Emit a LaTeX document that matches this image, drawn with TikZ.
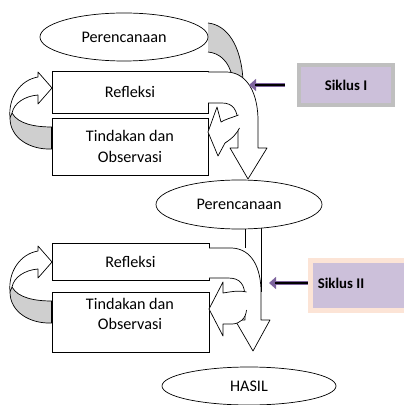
\documentclass[tikz,border=0pt]{standalone}
\usepackage{fontspec}
\setmainfont{Carlito}
\usetikzlibrary{shapes.geometric,arrows.meta}

\definecolor{lavender}{HTML}{CCC0DA}
\definecolor{boxgrey}{HTML}{BFBFBF}
\definecolor{peach}{HTML}{FCE4D6}
\definecolor{arrowpurple}{HTML}{7E649E}

\newcommand{\px}{0.025cm}

\begin{document}
\begin{tikzpicture}[x=0.025cm,y=-0.025cm,line width=0.5pt,
        font=\fontsize{11.5}{14.5}\selectfont,
        phase/.style={ellipse,draw,fill=white,inner sep=0pt},
        stage/.style={rectangle,draw,fill=white,inner sep=0pt,align=center},
        hollow/.style={draw,fill=white,line join=round},
        shade/.style={fill=gray!38},
        siklus/.style={rectangle,fill=lavender,line width=2.8pt,inner sep=0pt,
          font=\fontsize{10.5}{12}\selectfont\bfseries},
        pointer/.style={arrowpurple,line width=3.4pt,-{Triangle[length=5pt,width=8.5pt]}},
        pointcore/.style={black,line width=1.6pt,shorten >=4pt}]

  \useasboundingbox (0,0) rectangle (403,405);

  % grey band from the first plan
  \fill[shade] (208,23) .. controls (227,25) and (241,45) .. (243,80)
    -- (232,76) .. controls (229,62) and (220,53) .. (208,52) -- cycle;
  \draw (208,23) .. controls (227,25) and (241,45) .. (243,80);
  \draw (232,76) .. controls (229,62) and (220,53) .. (208,52);

  % shaft under the second plan
  \draw (245,215) -- (245,248) (261,215) -- (261,292);

  \node[phase,minimum width=168*\px,minimum height=48*\px] (plan1) at (124,37) {Perencanaan};
  \node[stage,minimum width=156*\px,minimum height=42*\px] (refl1) at (130,92) {Refleksi};
  \node[stage,minimum width=156*\px,minimum height=57*\px] (act1) at (130,146.5) {Tindakan dan\\Observasi};

  \node[phase,minimum width=166*\px,minimum height=49*\px] (plan2) at (239,204.5) {Perencanaan};
  \node[stage,minimum width=157*\px,minimum height=37*\px] (refl2) at (130.5,261.5) {Refleksi};
  \node[stage,minimum width=157*\px,minimum height=60*\px] (act2) at (130.5,322) {};
  \node[align=center] (act2txt) at (130,314) {Tindakan dan\\Observasi};
  \node[phase,minimum width=174*\px,minimum height=38*\px] (hasil) at (249,386) {HASIL};

  % big arrows on the right
  \filldraw[hollow] (208,72) -- (226,72) .. controls (244,72) and (257,88) .. (258,118)
    -- (258,148) -- (267,148) -- (248,179) -- (230,148) -- (238,148) -- (238,125)
    .. controls (238,110) and (233,103) .. (222,103) -- (208,103);
  \filldraw[hollow] (238.5,115) .. controls (231,118) and (226,119) .. (221,122)
    -- (217,107) -- (208,132) -- (218,156) -- (225,143)
    .. controls (233,138) and (237,133) .. (239.5,128);

  \filldraw[hollow] (209,248) -- (232,248) .. controls (252,249) and (261,268) .. (261,292)
    -- (261,320) -- (270,320) -- (253,351) -- (235,320) -- (245,320) -- (245,298)
    .. controls (245,284) and (240,278) .. (228,278) -- (209,278);
  \filldraw[hollow] (246.5,292) .. controls (238,290) and (230,292) .. (223,293)
    -- (223,282) -- (209,309) -- (223,336) -- (223,324) -- (232,324)
    .. controls (240,324) and (246,318) .. (246.5,310);

  % loops on the left
  \begin{scope}
    \fill[shade] (12,113) .. controls (18,124) and (35,127) .. (52,127)
      -- (52,149) .. controls (30,150) and (10,138) .. (10,118) -- cycle;
    \draw (12,113) .. controls (18,124) and (35,127) .. (52,127);
    \draw (52,149) .. controls (30,150) and (10,138) .. (10,118);
    \draw[line width=1.4pt] (52,127) -- (52,149);
    \filldraw[hollow] (10,118) .. controls (8,98) and (20,80) .. (38,77) -- (38,72)
      -- (52,88) -- (38,104) -- (38,95) .. controls (25,96) and (14,103) .. (12,113) -- cycle;
  \end{scope}
  \begin{scope}[shift={(0,174)}]
    \fill[shade] (12,113) .. controls (18,124) and (35,127) .. (52,127)
      -- (52,149) .. controls (30,150) and (10,138) .. (10,118) -- cycle;
    \draw (12,113) .. controls (18,124) and (35,127) .. (52,127);
    \draw (52,149) .. controls (30,150) and (10,138) .. (10,118);
    \draw[line width=1.4pt] (52,127) -- (52,149);
    \filldraw[hollow] (10,118) .. controls (8,98) and (20,80) .. (38,77) -- (38,72)
      -- (52,88) -- (38,104) -- (38,95) .. controls (25,96) and (14,103) .. (12,113) -- cycle;
  \end{scope}

  % cycle labels
  \node[siklus,draw=boxgrey,minimum width=94*\px,minimum height=40*\px] (sik1) at (346,85) {Siklus I};
  \node[siklus,draw=peach,line width=3.5pt,minimum width=101.5*\px,minimum height=50*\px] (sik2) at (361,285.5) {};
  \node[font=\fontsize{10.5}{12}\selectfont\bfseries] (sik2txt) at (341,283) {Siklus II};

  \coordinate (tip1) at (249,85);
  \coordinate (tip2) at (269,283);
  \draw[pointer,shorten <=12*\px] (sik1.west) -- (tip1);
  \draw[pointcore,shorten <=12*\px] (sik1.west) -- (tip1);
  \draw[pointer] (sik2.west |- tip2) -- (tip2);
  \draw[pointcore] (sik2.west |- tip2) -- (tip2);

\end{tikzpicture}
\end{document}
